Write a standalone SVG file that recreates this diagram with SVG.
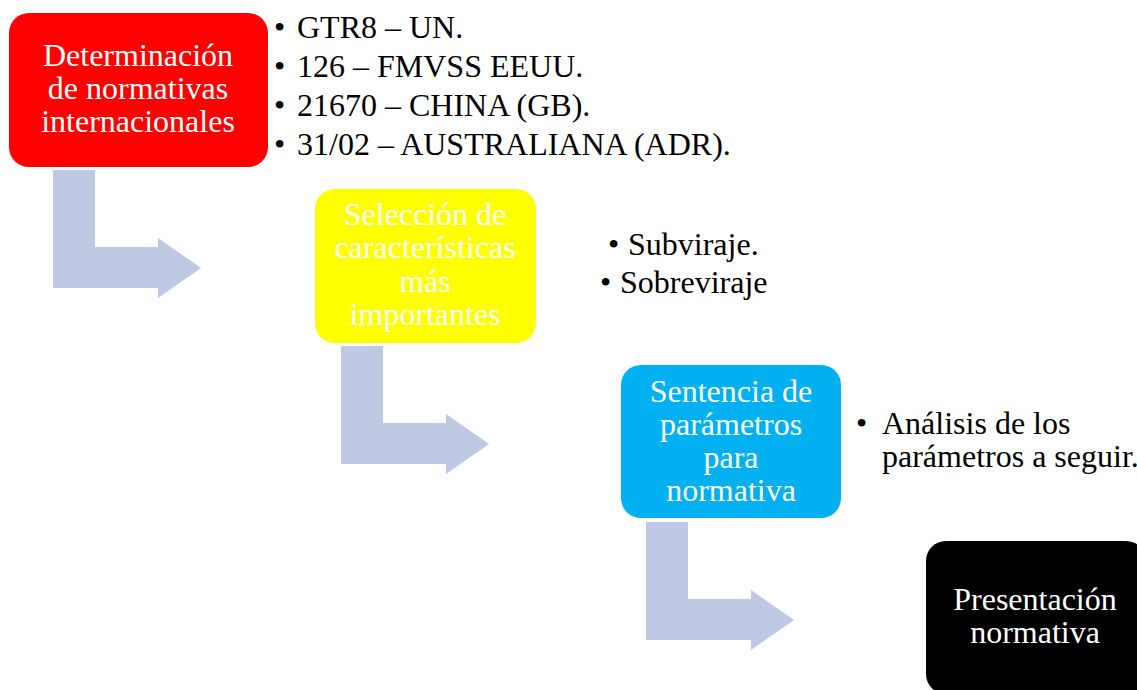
<svg xmlns="http://www.w3.org/2000/svg" xmlns:xlink="http://www.w3.org/1999/xlink" width="1137" height="690" viewBox="0 0 1137 690">
  <style>
    text { font-family: 'Liberation Serif', serif; font-size: 32px; }
    .box-text { fill: #FFFFFF; text-anchor: middle; }
    .list { fill: #000000; }
    .arrow { fill: #C0C9E4; }
  </style>
  <defs>
    <path id="bent-arrow" d="M0,0 H42 V77 H105 V68 L148,98 L105,128 V118 H0 Z"/>
  </defs>
  <rect width="1137" height="690" fill="#FFFFFF"/>

  <g id="connectors">
    <use xlink:href="#bent-arrow" href="#bent-arrow" class="arrow" transform="translate(53,170)"/>
    <use xlink:href="#bent-arrow" href="#bent-arrow" class="arrow" transform="translate(341,346)"/>
    <use xlink:href="#bent-arrow" href="#bent-arrow" class="arrow" transform="translate(646,522)"/>
  </g>

  <g id="node-determinacion" font-family="Liberation Serif, serif">
    <rect x="9" y="13" width="259" height="154" rx="20" ry="20" fill="#FF0000"/>
    <text class="box-text" x="138" y="66">Determinación</text>
    <text class="box-text" x="138" y="99">de normativas</text>
    <text class="box-text" x="138" y="132">internacionales</text>
  </g>

  <g id="list-determinacion" class="list">
    <text x="274" y="38">•</text><text x="297" y="38">GTR8 – UN.</text>
    <text x="274" y="77">•</text><text x="297" y="77">126 – FMVSS EEUU.</text>
    <text x="274" y="116">•</text><text x="297" y="116">21670 – CHINA (GB).</text>
    <text x="274" y="155">•</text><text x="297" y="155">31/02 – AUSTRALIANA (ADR).</text>
  </g>

  <g id="node-seleccion">
    <rect x="315" y="189" width="221" height="154" rx="20" ry="20" fill="#FFFF00"/>
    <text class="box-text" x="425" y="225">Selección de</text>
    <text class="box-text" x="425" y="258">características</text>
    <text class="box-text" x="425" y="292">más</text>
    <text class="box-text" x="425" y="325">importantes</text>
  </g>

  <g id="list-seleccion" class="list">
    <text x="608" y="255">•</text><text x="628" y="255">Subviraje.</text>
    <text x="600" y="293">•</text><text x="620" y="293">Sobreviraje</text>
  </g>

  <g id="node-sentencia">
    <rect x="621" y="365" width="220" height="153" rx="20" ry="20" fill="#00B0F0"/>
    <text class="box-text" x="731" y="402">Sentencia de</text>
    <text class="box-text" x="731" y="435">parámetros</text>
    <text class="box-text" x="731" y="468">para</text>
    <text class="box-text" x="731" y="501">normativa</text>
  </g>

  <g id="list-sentencia" class="list">
    <text x="856" y="434">•</text><text x="882" y="434">Análisis de los</text>
    <text x="882" y="467">parámetros a seguir.</text>
  </g>

  <g id="node-presentacion">
    <rect x="926" y="541" width="220" height="153" rx="20" ry="20" fill="#000000"/>
    <text class="box-text" x="1035" y="610">Presentación</text>
    <text class="box-text" x="1035" y="643">normativa</text>
  </g>
</svg>
